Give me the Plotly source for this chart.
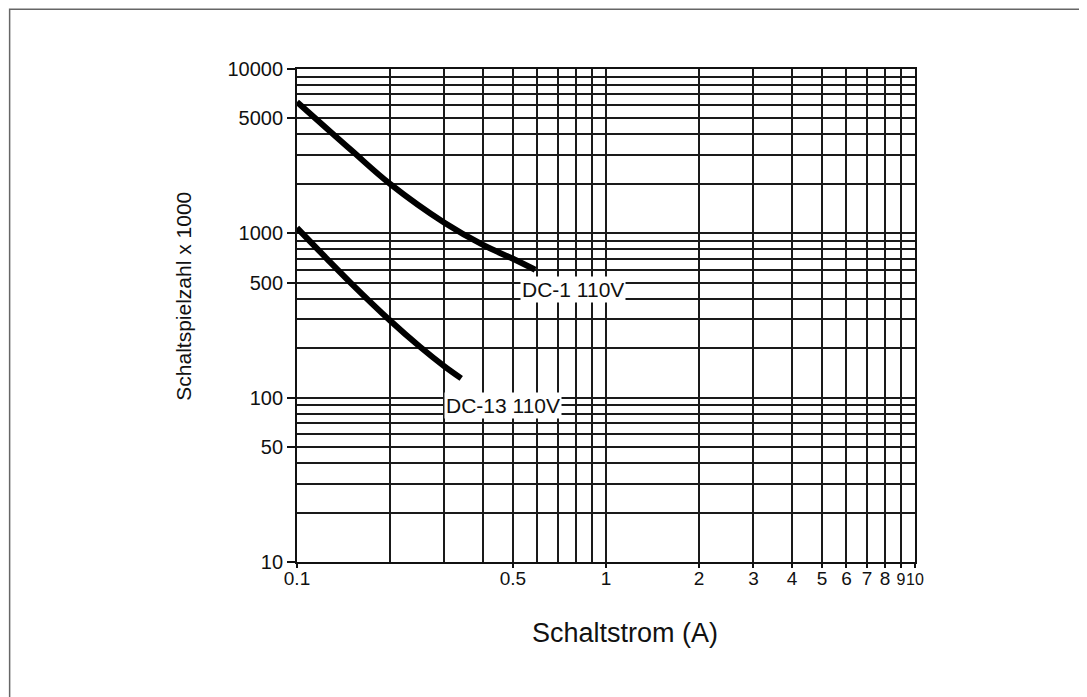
import plotly.graph_objects as go
import math

# ---- data ----
current_dc1 = [0.1, 0.15, 0.2, 0.3, 0.4, 0.5, 0.59]
cycles_dc1 = [6300, 3200, 2000, 1160, 850, 700, 600]

current_dc13 = [0.1, 0.125, 0.15, 0.2, 0.25, 0.3, 0.34]
cycles_dc13 = [1080, 700, 495, 295, 204, 155, 131]

series_names = ["DC-1 110V", "DC-13 110V"]

x_tick_vals = [0.1, 0.5, 1, 2, 3, 4, 5, 6, 7, 8, 9, 10]
x_tick_text = ["0.1", "0.5", "1", "2", "3", "4", "5", "6", "7", "8", "9", "10"]
x_minor_vals = [0.2, 0.3, 0.4, 0.6, 0.7, 0.8, 0.9]

y_tick_vals = [10, 50, 100, 500, 1000, 5000, 10000]
y_tick_text = ["10", "50", "100", "500", "1000", "5000", "10000"]
y_minor_vals = [20, 30, 40, 60, 70, 80, 90,
                200, 300, 400, 600, 700, 800, 900,
                2000, 3000, 4000, 6000, 7000, 8000, 9000]

x_title = "Schaltstrom (A)"
y_title = "Schaltspielzahl x 1000"

FONT = "Liberation Sans, Arial, sans-serif"
INK = "#111111"
GRID = "#1a1a1a"

# the last two x labels sit very close together: set them slightly smaller
crowded = {"9", "10"}
x_tick_show = [f"<span style='font-size:16px'>{t}</span>" if t in crowded else t
               for t in x_tick_text]

fig = go.Figure()
for xs, ys, name in [(current_dc1, cycles_dc1, series_names[0]),
                     (current_dc13, cycles_dc13, series_names[1])]:
    fig.add_trace(go.Scatter(
        x=xs, y=ys, name=name, mode="lines",
        line=dict(color="#000000", width=6, shape="spline", smoothing=1.0),
        showlegend=False,
    ))

# curve labels anchored at the curve end points
label_offsets = [(38, -20), (42, -27)]
for xs, ys, name, (dx, dy) in zip([current_dc1, current_dc13],
                                  [cycles_dc1, cycles_dc13],
                                  series_names, label_offsets):
    fig.add_annotation(
        x=math.log10(xs[-1]), y=math.log10(ys[-1]), xref="x", yref="y",
        text=name, showarrow=False, xanchor="center", yanchor="middle",
        xshift=dx, yshift=dy,
        font=dict(family=FONT, size=21, color=INK),
        bgcolor="white", borderpad=1,
    )

# axis titles
fig.add_annotation(x=0.531, y=-0.144, xref="paper", yref="paper",
                   text=x_title, showarrow=False, xanchor="center", yanchor="middle",
                   font=dict(family=FONT, size=27, color=INK))
fig.add_annotation(x=-0.183, y=0.54, xref="paper", yref="paper",
                   text=y_title, showarrow=False, xanchor="center", yanchor="middle",
                   textangle=-90,
                   font=dict(family=FONT, size=21, color=INK))

# outer frame
fig.add_shape(type="rect", xref="paper", yref="paper",
              x0=-0.465, x1=1.275, y0=-0.33, y1=1.121,
              line=dict(color="#666666", width=1.5), fillcolor="rgba(0,0,0,0)",
              layer="below")

fig.update_xaxes(
    type="log", range=[-1, 1],
    tickmode="array", tickvals=x_tick_vals, ticktext=x_tick_show,
    ticks="outside", ticklen=4, tickwidth=1.5, tickcolor=INK, tickangle=0,
    ticklabelstandoff=-6,
    tickfont=dict(family=FONT, size=19, color=INK),
    showline=True, linecolor=INK, linewidth=1.8, mirror=True,
    showgrid=True, gridcolor=GRID, gridwidth=1.8,
    minor=dict(tickmode="array", tickvals=x_minor_vals, ticks="",
               showgrid=True, gridcolor=GRID, gridwidth=1.8),
    zeroline=False, automargin=False,
)
fig.update_yaxes(
    type="log", range=[1, 4],
    tickmode="array", tickvals=y_tick_vals, ticktext=y_tick_text,
    ticks="outside", ticklen=8, tickwidth=1.5, tickcolor=INK,
    tickfont=dict(family=FONT, size=20, color=INK),
    showline=True, linecolor=INK, linewidth=1.8, mirror=True,
    showgrid=True, gridcolor=GRID, gridwidth=1.8,
    minor=dict(tickmode="array", tickvals=y_minor_vals, ticks="",
               showgrid=True, gridcolor=GRID, gridwidth=1.8),
    zeroline=False, automargin=False,
)

# page body adds ~8px offset; compensate so the plot area lands at 297..915 x 69..562
fig.update_layout(
    width=1079, height=689,
    margin=dict(l=289, r=172, t=61, b=135),
    paper_bgcolor="white", plot_bgcolor="white",
    font=dict(family=FONT, color=INK),
    showlegend=False,
)

fig.write_html("out.html")
